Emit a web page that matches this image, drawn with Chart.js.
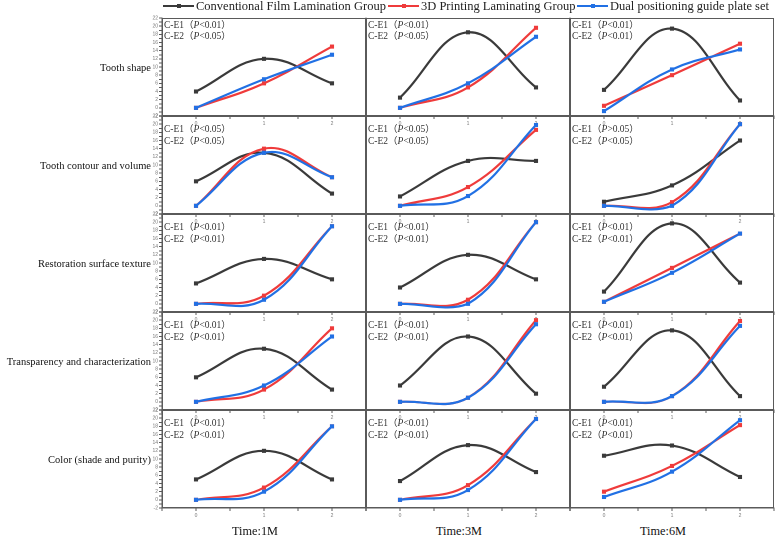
<!DOCTYPE html>
<html>
<head>
<meta charset="utf-8">
<script src="https://cdn.jsdelivr.net/npm/chart.js@4.4.1/dist/chart.umd.min.js"></script>
<style>
  html, body { margin:0; padding:0; background:#fff; }
  body { width:777px; height:539px; overflow:hidden; position:relative;
         font-family:"Liberation Serif","Times New Roman","Noto Sans CJK SC",serif; }
  canvas { position:absolute; }
  .txt { position:absolute; white-space:nowrap; }
  .ann { color:#333; font-size:9.5px; line-height:11px; }
  .rowlab { color:#111; font-size:10.5px; line-height:14px; text-align:right; }
  .timelab { color:#111; font-size:12.3px; line-height:16px; text-align:center; }
  .leg { color:#222; font-size:12.5px; line-height:14px; }
  .legline { position:absolute; height:2px; }
  .legmark { position:absolute; width:4px; height:4px; }
</style>
</head>
<body>
<script>
// ---------------- data ----------------
const GROUPS = ['Conventional Film Lamination Group', '3D Printing Laminating Group', 'Dual positioning guide plate set'];
const CRITERIA = ['Tooth shape', 'Tooth contour and volume', 'Restoration surface texture', 'Transparency and characterization', 'Color (shade and purity)'];
const TIMES = ['Time:1M', 'Time:3M', 'Time:6M'];
const X_POINTS = [0, 1, 2];
const X_TICK_LABELS = ['0', '1', '2'];

// one inner list per criterion (row), values at x = 0, 1, 2
const conventional1M = [[4, 12, 6], [6, 13, 3], [5, 11, 6], [6, 13, 3], [5, 12, 5]];
const printing1M     = [[0, 6, 15], [0, 14, 7], [0, 2, 19], [0, 3, 18], [0, 3, 18]];
const dual1M         = [[0, 7, 13], [0, 13, 7], [0, 1, 19], [0, 4, 16], [0, 2, 18]];

const conventional3M = [[2.5, 18.5, 5], [2.3, 11, 11], [4, 12, 6], [4, 16, 2], [4.6, 13.4, 6.8]];
const printing3M     = [[0, 5, 19.6], [0, 4.6, 18.6], [0, 1, 20], [0, 1, 20], [0, 3.6, 19.8]];
const dual3M         = [[0, 6, 17.4], [0, 2.4, 19.8], [0, 0, 20], [0, 1, 19], [0, 2.4, 19.8]];

const conventional6M = [[4.4, 19.4, 1.8], [1, 5, 16], [3, 19.7, 5.2], [3.7, 17.5, 1.4], [10.8, 13.3, 5.6]];
const printing6M     = [[0.5, 8, 15.7], [0, 0.9, 20], [0.5, 8.8, 17.2], [0, 1.4, 19.8], [2, 8.3, 18.3]];
const dual6M         = [[-0.8, 9.4, 14.3], [0, 0, 20], [0.5, 7.6, 17.2], [0, 1.4, 18.6], [0.7, 6.9, 19.5]];

// significance notes, [row][column]
const E1_P = [['<0.01', '<0.01', '<0.01'], ['<0.05', '<0.05', '>0.05'], ['<0.01', '<0.01', '<0.01'], ['<0.01', '<0.01', '<0.01'], ['<0.01', '<0.01', '<0.01']];
const E2_P = [['<0.05', '<0.05', '<0.01'], ['<0.05', '<0.05', '<0.05'], ['<0.01', '<0.01', '<0.01'], ['<0.01', '<0.01', '<0.01'], ['<0.01', '<0.01', '<0.01']];

const Y_MIN = -2, Y_MAX = 22;

// ---------------- style / layout ----------------
const COLORS = ['#3a3a3a', '#ef3b3b', '#2170e4'];
const SERIES = [[conventional1M, printing1M, dual1M], [conventional3M, printing3M, dual3M], [conventional6M, printing6M, dual6M]];
const ROW_TOPS = [18, 116, 214, 312, 410];
const COL_LEFTS = [162, 366, 570];
const PW = 204, PH = 98;
const PAD_L = 24, PAD_T = 5, PAD_R = 5, PAD_B = 14;
const FRAME = '#5a5a5a';

const framePlugin = {
  id: 'frame',
  afterDraw(chart) {
    const { ctx, chartArea: a } = chart;
    ctx.save();
    ctx.strokeStyle = FRAME;
    ctx.lineWidth = 1;
    ctx.strokeRect(Math.round(a.left) + 0.5, Math.round(a.top) + 0.5,
                   Math.round(a.right - a.left) - 1, Math.round(a.bottom - a.top) - 1);
    ctx.restore();
  }
};

function esc(s) { return s.replace(/</g, '&lt;').replace(/>/g, '&gt;'); }
function addText(cls, html, style) {
  const d = document.createElement('div');
  d.className = 'txt ' + cls;
  d.innerHTML = html;
  Object.assign(d.style, style);
  document.body.appendChild(d);
  return d;
}

for (let c = 0; c < 3; c++) {
  for (let r = 0; r < 5; r++) {
    const cv = document.createElement('canvas');
    const w = PW + PAD_L + PAD_R, h = PH + PAD_T + PAD_B;
    cv.width = w; cv.height = h;
    cv.style.width = w + 'px'; cv.style.height = h + 'px';
    cv.style.left = (COL_LEFTS[c] - PAD_L) + 'px';
    cv.style.top = (ROW_TOPS[r] - PAD_T) + 'px';
    document.body.appendChild(cv);

    const datasets = GROUPS.map((g, k) => ({
      label: g,
      data: SERIES[c][k][r].map((v, i) => ({ x: X_POINTS[i], y: v })),
      borderColor: COLORS[k],
      backgroundColor: COLORS[k],
      pointBackgroundColor: COLORS[k],
      order: 3 - k
    }));

    new Chart(cv, {
      type: 'line',
      data: { datasets },
      options: {
        responsive: false,
        maintainAspectRatio: false,
        animation: false,
        devicePixelRatio: 2,
        layout: { padding: { top: PAD_T, right: PAD_R, left: 0, bottom: 0 } },
        plugins: { legend: { display: false }, tooltip: { enabled: false } },
        elements: {
          line: { tension: 0.4, borderWidth: 2.2, fill: false },
          point: { pointStyle: 'rect', radius: 2.9, borderWidth: 0, hoverRadius: 2.9 }
        },
        scales: {
          x: {
            type: 'linear', min: -0.5, max: 2.5,
            afterFit: s => { s.height = PAD_B; },
            ticks: {
              stepSize: 0.5, autoSkip: false, maxRotation: 0, padding: 1.5,
              font: { size: 5, family: 'Liberation Sans' }, color: '#777',
              callback: v => (Number.isInteger(v) && v >= 0 && v < X_TICK_LABELS.length) ? X_TICK_LABELS[v] : ''
            },
            grid: { drawOnChartArea: false, drawTicks: true, tickLength: 3, color: FRAME },
            border: { color: FRAME, width: 1 }
          },
          y: {
            min: Y_MIN, max: Y_MAX,
            afterFit: s => { s.width = PAD_L; },
            ticks: {
              display: c === 0, stepSize: 1, autoSkip: false, padding: 1,
              font: { size: 5, family: 'Liberation Sans' }, color: '#777',
              callback: v => (v % 2 === 0 ? String(v) : '')
            },
            grid: { drawOnChartArea: false, drawTicks: c === 0, tickLength: 3, color: FRAME },
            border: { color: FRAME, width: 1 }
          }
        }
      },
      plugins: [framePlugin]
    });

    // significance notes
    const l1 = ROW_TOPS[r] + (r === 0 ? 7 : 13.7);
    addText('ann', 'C-E1（<i>P</i>' + esc(E1_P[r][c]) + '）', { left: (COL_LEFTS[c] + 2) + 'px', top: (l1 - 5.5) + 'px' });
    addText('ann', 'C-E2（<i>P</i>' + esc(E2_P[r][c]) + '）', { left: (COL_LEFTS[c] + 2) + 'px', top: (l1 + 11.3 - 5.5) + 'px' });
  }
}

// row labels
CRITERIA.forEach((t, r) => {
  addText('rowlab', esc(t), { right: (777 - 151) + 'px', top: (ROW_TOPS[r] + PH / 2 + 1 - 7) + 'px' });
});

// column (time) labels
TIMES.forEach((t, c) => {
  const d = addText('timelab', esc(t), { left: (COL_LEFTS[c] + 93 - 40) + 'px', top: (531 - 8) + 'px' });
  d.style.width = '80px';
});

// legend
const LEG_X = [163, 388, 577];
GROUPS.forEach((g, k) => {
  const ln = document.createElement('div');
  ln.className = 'legline';
  Object.assign(ln.style, { left: LEG_X[k] + 'px', top: '5px', width: '31px', background: COLORS[k] });
  document.body.appendChild(ln);
  const mk = document.createElement('div');
  mk.className = 'legmark';
  Object.assign(mk.style, { left: (LEG_X[k] + 13.5) + 'px', top: '4px', background: COLORS[k] });
  document.body.appendChild(mk);
  addText('leg', esc(g), { left: (LEG_X[k] + 33) + 'px', top: '-1px' });
});
</script>
</body>
</html>
